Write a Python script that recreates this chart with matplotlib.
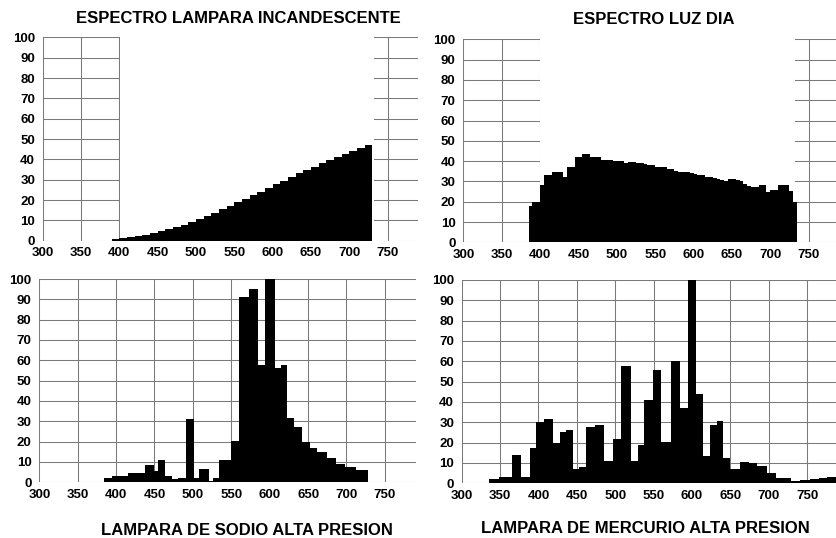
import numpy as np
import matplotlib
matplotlib.use("Agg")
import matplotlib.pyplot as plt

plt.rcParams['font.family'] = ['Liberation Sans', 'DejaVu Sans']

# wavelength ticks (nm) and relative intensity ticks (%)
x_ticks = list(range(300, 800, 50))
y_ticks = list(range(0, 110, 10))

# incandescent lamp: 10 nm bins from 390 to 730
inc_edges = np.arange(390, 731, 10)
inc_values = [1, 1.3, 1.7, 2.2, 2.8, 4, 5, 5.8, 6.8, 7.9, 9.2, 10.7, 12.2,
              13.8, 15.4, 17.2, 18.9, 20.6, 22.4, 24.2, 26, 27.8, 29.6, 31.4,
              33.1, 34.8, 36.5, 38.1, 39.7, 41.2, 42.6, 44, 45.5, 47]

# daylight: 5 nm bins from 385 to 735
day_edges = np.arange(385, 736, 5)
day_values = [18, 20, 20, 28, 33, 33, 34.5, 34.5, 34.5, 32,
              37, 37, 42, 42, 43.5, 43.5, 42, 42, 42, 40.5,
              40.5, 40.5, 40, 40, 40, 39, 39.5, 39.5, 39, 39,
              38.5, 38, 38, 37, 37, 37, 36, 36, 35, 34.5,
              34.5, 34.5, 34, 33.5, 33, 33, 32, 32, 31.5, 31,
              30.5, 30, 31, 31, 30.5, 30, 28.5, 27.5, 27, 27,
              28, 28, 25, 26, 26, 28, 28, 28, 25.5, 20]

# high pressure sodium lamp (bin edges in nm)
na_edges = [384, 395, 416, 437, 449, 455, 464, 473, 481, 491, 502, 508, 521,
            526, 534, 550, 560, 573, 585, 594, 607, 615, 623, 632, 642, 652,
            662, 674, 686, 698, 712, 728]
na_values = [2, 3, 4.4, 8.4, 5.5, 11.2, 3, 1.5, 2.3, 31, 2.3, 6.6, 0.8, 2.3,
             10.8, 20.2, 91.3, 95, 57.5, 100, 56, 57.5, 31.5, 27, 20, 17, 15,
             12, 9, 7.5, 6]

# high pressure mercury lamp (bin edges in nm)
hg_edges = [336, 349, 366, 377, 389, 396.5, 407, 418.7, 428, 436, 444.8, 453,
            461.7, 474, 486, 497, 507.5, 520, 529.5, 538, 549, 560, 572.6,
            584.8, 594.8, 605.7, 614, 623, 632.6, 640.4, 650, 662, 674, 684.8,
            697.8, 710, 729, 741, 754, 765, 776, 790]
hg_values = [2, 3, 14, 3, 17.5, 30, 31.5, 20, 25, 26, 7, 8, 27.5, 28.5, 11,
             22, 57.5, 11, 19, 41, 55.5, 20.5, 60, 37, 100, 44, 13.5, 28.5,
             30.5, 12.5, 7, 10.5, 10, 8.5, 5, 2.5, 1, 1.5, 2, 2.5, 3]

W, H = 837, 538
fig = plt.figure(figsize=(W / 100, H / 100), dpi=100)


def px_axes(left, top, right, bottom):
    # axes box given in image pixels (origin top-left)
    return fig.add_axes([left / W, 1 - bottom / H, (right - left) / W, (bottom - top) / H])


def setup(ax, xmax, blank=False):
    ax.set_xlim(300, xmax)
    ax.set_ylim(0, 100)
    ax.set_xticks(x_ticks)
    ax.set_yticks(y_ticks)
    ax.set_axisbelow(True)
    ax.grid(True, color='#7a7a7a', linewidth=0.75)
    for s in ax.spines.values():
        s.set_visible(False)
    ax.tick_params(length=0, labelsize=9.5, colors='black')
    ax.tick_params(axis='x', pad=4.5)
    ax.tick_params(axis='y', pad=5.5)
    for lab in ax.get_xticklabels() + ax.get_yticklabels():
        lab.set_fontweight('bold')
    if blank:
        # the printed grid is missing over the middle of the upper charts
        ax.axvspan(400.6, 732, color='white', zorder=1, lw=0)


ax1 = px_axes(42.7, 37.5, 418.4, 240.7)
setup(ax1, 790, blank=True)
ax1.stairs(inc_values, inc_edges, fill=True, color='black', zorder=2)

ax2 = px_axes(463.3, 39.3, 837, 242.3)
setup(ax2, 787, blank=True)
ax2.stairs(day_values, day_edges, fill=True, color='black', zorder=2)

ax3 = px_axes(39.3, 279, 415.6, 482.3)
setup(ax3, 790)
ax3.stairs(na_values, na_edges, fill=True, color='black', zorder=2)

ax4 = px_axes(461.7, 280, 837, 483.3)
setup(ax4, 789)
ax4.stairs(hg_values, hg_edges, fill=True, color='black', zorder=2)

title_kw = dict(fontsize=12, fontweight='bold', ha='center', va='baseline')
fig.text(238 / W, 1 - 23.3 / H, 'ESPECTRO LAMPARA INCANDESCENTE', **title_kw)
fig.text(653.5 / W, 1 - 24 / H, 'ESPECTRO LUZ DIA', **title_kw)
fig.text(247 / W, 1 - 535 / H, 'LAMPARA DE SODIO ALTA PRESION', **title_kw)
fig.text(645 / W, 1 - 533.3 / H, 'LAMPARA DE MERCURIO ALTA PRESION', **title_kw)

fig.savefig('out.png', dpi=100)
